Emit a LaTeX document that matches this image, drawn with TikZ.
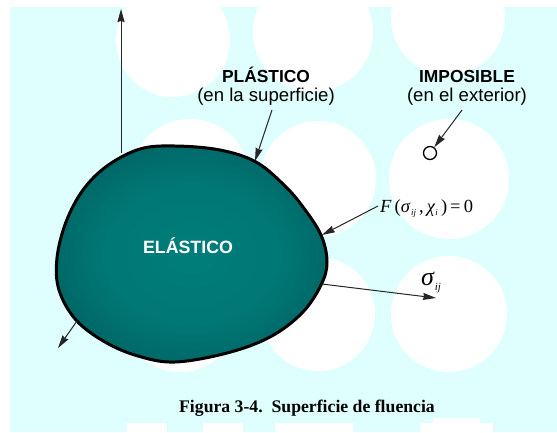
\documentclass[tikz,border=0pt]{standalone}
\usepackage{fontspec}
\setmainfont{Liberation Serif}
\newfontfamily\arial{Liberation Sans}
\usetikzlibrary{arrows.meta}
\definecolor{bgcyan}{RGB}{223,255,255}
\pgfdeclareradialshading{blobshade}{\pgfpoint{0bp}{0bp}}{rgb(0bp)=(0,0.49,0.48); rgb(16bp)=(0,0.47,0.46); rgb(30bp)=(0,0.38,0.38); rgb(42bp)=(0,0.28,0.28); rgb(50bp)=(0,0.22,0.22)}
\begin{document}
\begin{tikzpicture}[x=1pt,y=-1pt,
  arr/.style={draw=black!85, line width=1pt, -{Stealth[length=13pt,width=7pt,inset=1pt]}},
  boldlbl/.style={font=\arial\bfseries\fontsize{17.4}{20}\selectfont, anchor=base, inner sep=0pt},
  reglbl/.style={font=\arial\fontsize{18.6}{21}\selectfont, anchor=base, inner sep=0pt},
  bgdisk/.style={fill=white},
  blob/.style={draw=black, line width=3pt, shading=blobshade}]
\useasboundingbox (0,0) rectangle (557,432);
% background
\fill[white] (0,0) rectangle (557,432);
\fill[bgcyan] (10,7) rectangle (557,432);
\begin{scope}
\clip (10,7) rectangle (557,432);
\fill[bgdisk] (173,40) circle[radius=57pt];
\fill[bgdisk] (313,32) circle[radius=60pt];
\fill[bgdisk] (448,18) circle[radius=57pt];
\fill[bgdisk] (190,179) circle[radius=60pt];
\fill[bgdisk] (318,179) circle[radius=58pt];
\fill[bgdisk] (449,179) circle[radius=60pt];
\fill[bgdisk] (180,314) circle[radius=58pt];
\fill[bgdisk] (318,314) circle[radius=57pt];
\fill[bgdisk] (449,314) circle[radius=58pt];
\fill[bgdisk] (127,423) rectangle (167,432);
\fill[bgdisk] (203,423) rectangle (243,432);
\fill[bgdisk] (275,423) rectangle (353,432);
\fill[bgdisk] (420,423) rectangle (493,432);
\fill[bgdisk] (433,418) rectangle (480,423);
\end{scope}
% blob
\path[blob] plot[smooth cycle, tension=0.6] coordinates {(175,146) (140,149) (107,166) (83,190) (66,222) (57,258) (59,290) (76,320) (105,342) (138,356) (175,362) (227,353) (270,337) (302,313) (321,285) (327,262) (321,235) (303,207) (284,185) (256,162) (220,150)};
% connector end points
\coordinate (vbot) at (121,153);
\coordinate (vtop) at (121,9);
\coordinate (llstart) at (77,321);
\coordinate (llend) at (58,348);
\coordinate (sstart) at (322,284);
\coordinate (send) at (436,298);
\coordinate (ptip) at (255,161);
\coordinate (ftip) at (322,235);
\coordinate (fstart) at (378,206);
\coordinate (istart) at (462,110);
\coordinate (pstart) at (272,110);
% labels
\node[boldlbl] (plast) at (266,82) {PLÁSTICO};
\node[reglbl] (plsub) at (266,101) {(en la superficie)};
\node[boldlbl] (impos) at (467,82) {IMPOSIBLE};
\node[reglbl] (imsub) at (467,101) {(en el exterior)};
\node[boldlbl, text=white, font=\arial\bfseries\fontsize{17.8}{20}\selectfont] (elast) at (188,253) {ELÁSTICO};
\node[draw=black, line width=1.3pt, circle, minimum size=13pt, inner sep=0pt] (pt) at (430,153) {};
\node[anchor=base west, inner sep=0pt, font=\fontsize{18.5}{20}\selectfont] (Feq) at (380,212) {\textit{F}\,(\textit{σ}\kern0.5pt\raisebox{-3pt}{\fontsize{9}{10}\selectfont\textit{ij}}\,,\,\textit{χ}\raisebox{-3pt}{\fontsize{9}{10}\selectfont\textit{i}}\,)\,=\,0};
\node[anchor=base west, inner sep=0pt, font=\fontsize{26}{28}\selectfont] (sig) at (421,285) {\textit{σ}\raisebox{-5pt}{\fontsize{11}{12}\selectfont\textit{ij}}};
\node[font=\bfseries\fontsize{17.7}{20}\selectfont, anchor=base, inner sep=0pt] (cap) at (307,412) {Figura 3-4.\ \ Superficie de fluencia};
% connectors
\draw[arr] (vbot) -- (vtop);
\draw[arr] (llstart) -- (llend);
\draw[arr] (sstart) -- (send);
\draw[arr] (pstart) -- (ptip);
\draw[arr] (fstart) -- (ftip);
\draw[arr] (istart) -- (pt);
\end{tikzpicture}
\end{document}
